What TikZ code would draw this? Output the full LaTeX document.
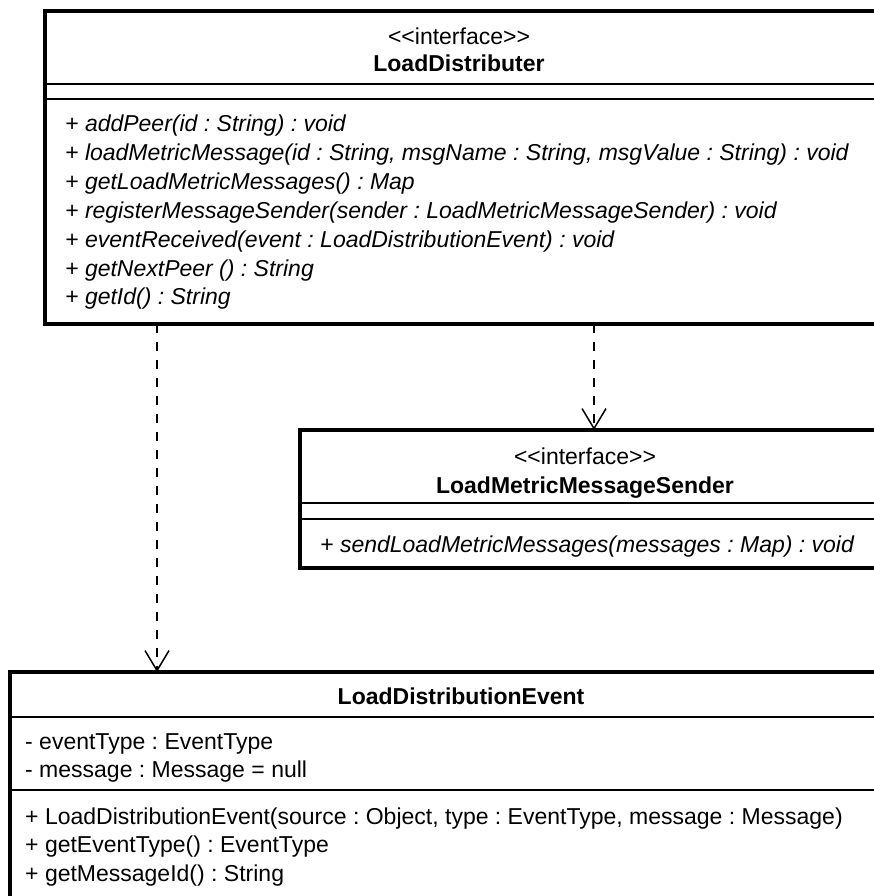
\documentclass[tikz,border=0pt]{standalone}
\usepackage{fontspec}
\setmainfont{Liberation Sans}
\usetikzlibrary{arrows.meta}
\frenchspacing

\tikzset{
  umlbox/.style={draw,line width=3.5pt,anchor=north west,outer sep=0pt,inner sep=0pt},
  umlsep/.style={line width=1.5pt},
  umltxt/.style={anchor=base west,inner sep=0pt},
  umlhead/.style={anchor=base,inner sep=0pt},
  realize/.style={line width=1.5pt,dash pattern=on 9pt off 9pt,
    -{Straight Barb[length=20pt,width=24pt,line width=1.5pt]}},
}

\begin{document}
\begin{tikzpicture}[x=1pt,y=-1pt,font=\fontsize{23}{28}\selectfont\frenchspacing]

    \useasboundingbox (0,0) rectangle (874,896);
    \clip (0,0) rectangle (874,896);
    \fill[white] (0,0) rectangle (874,896);

    % LoadDistributer
    \node[umlbox,minimum width=900pt,minimum height=313pt] (ld) at (45,11) {};
    \draw[umlsep] (ld.north west) ++(0,73) -- ++(900,0);
    \draw[umlsep] (ld.north west) ++(0,88) -- ++(900,0);
    \node[umlhead] (ldStereo) at (459,45) {<\kern0pt<interface>\kern0pt>};
    \node[umlhead] (ldName) at (459,72) {\bfseries LoadDistributer};
    \foreach \op [count=\i from 0] in {%
        {+ addPeer(id : String) : void},
        {+ loadMetricMessage(id : String, msgName : String, msgValue : String) : void},
        {+ getLoadMetricMessages() : Map},
        {+ registerMessageSender(sender : LoadMetricMessageSender) : void},
        {+ eventReceived(event : LoadDistributionEvent) : void},
        {+ getNextPeer () : String},
        {+ getId() : String}}
      \node[umltxt] (ldOp\i) at (65,{132+28.8*\i}) {\itshape\op};

    % LoadMetricMessageSender
    \node[umlbox,minimum width=620pt,minimum height=138pt] (lm) at (300,430) {};
    \draw[umlsep] (lm.north west) ++(0,73) -- ++(620,0);
    \draw[umlsep] (lm.north west) ++(0,89) -- ++(620,0);
    \node[umlhead] (lmStereo) at (585,464) {<\kern0pt<interface>\kern0pt>};
    \node[umlhead] (lmName) at (585,493) {\bfseries LoadMetricMessageSender};
    \node[umltxt] (lmOp) at (320,552) {\itshape + sendLoadMetricMessages(messages : Map) : void};

    % LoadDistributionEvent
    \node[umlbox,minimum width=920pt,minimum height=260pt] (ev) at (10,672) {};
    \draw[umlsep] (ev.north west) ++(0,45) -- ++(920,0);
    \draw[umlsep] (ev.north west) ++(0,118) -- ++(920,0);
    \node[umlhead] (evName) at (461,704) {\bfseries LoadDistributionEvent};
    \node[umltxt] (evAt0) at (25,749) {- eventType : EventType};
    \node[umltxt] (evAt1) at (25,777.5) {- message : Message = null};
    \foreach \op [count=\i from 0] in {%
        {+ LoadDistributionEvent(source : Object, type : EventType, message : Message)},
        {+ getEventType() : EventType},
        {+ getMessageId() : String}}
      \node[umltxt] (evOp\i) at (25,{824+28.5*\i}) {\op};

    % dependencies
    \draw[realize] ([xshift=112pt]ld.south west) -- ([xshift=147pt]ev.north west);
    \draw[realize] ([xshift=549pt]ld.south west) -- ([xshift=294pt]lm.north west);

\end{tikzpicture}
\end{document}
